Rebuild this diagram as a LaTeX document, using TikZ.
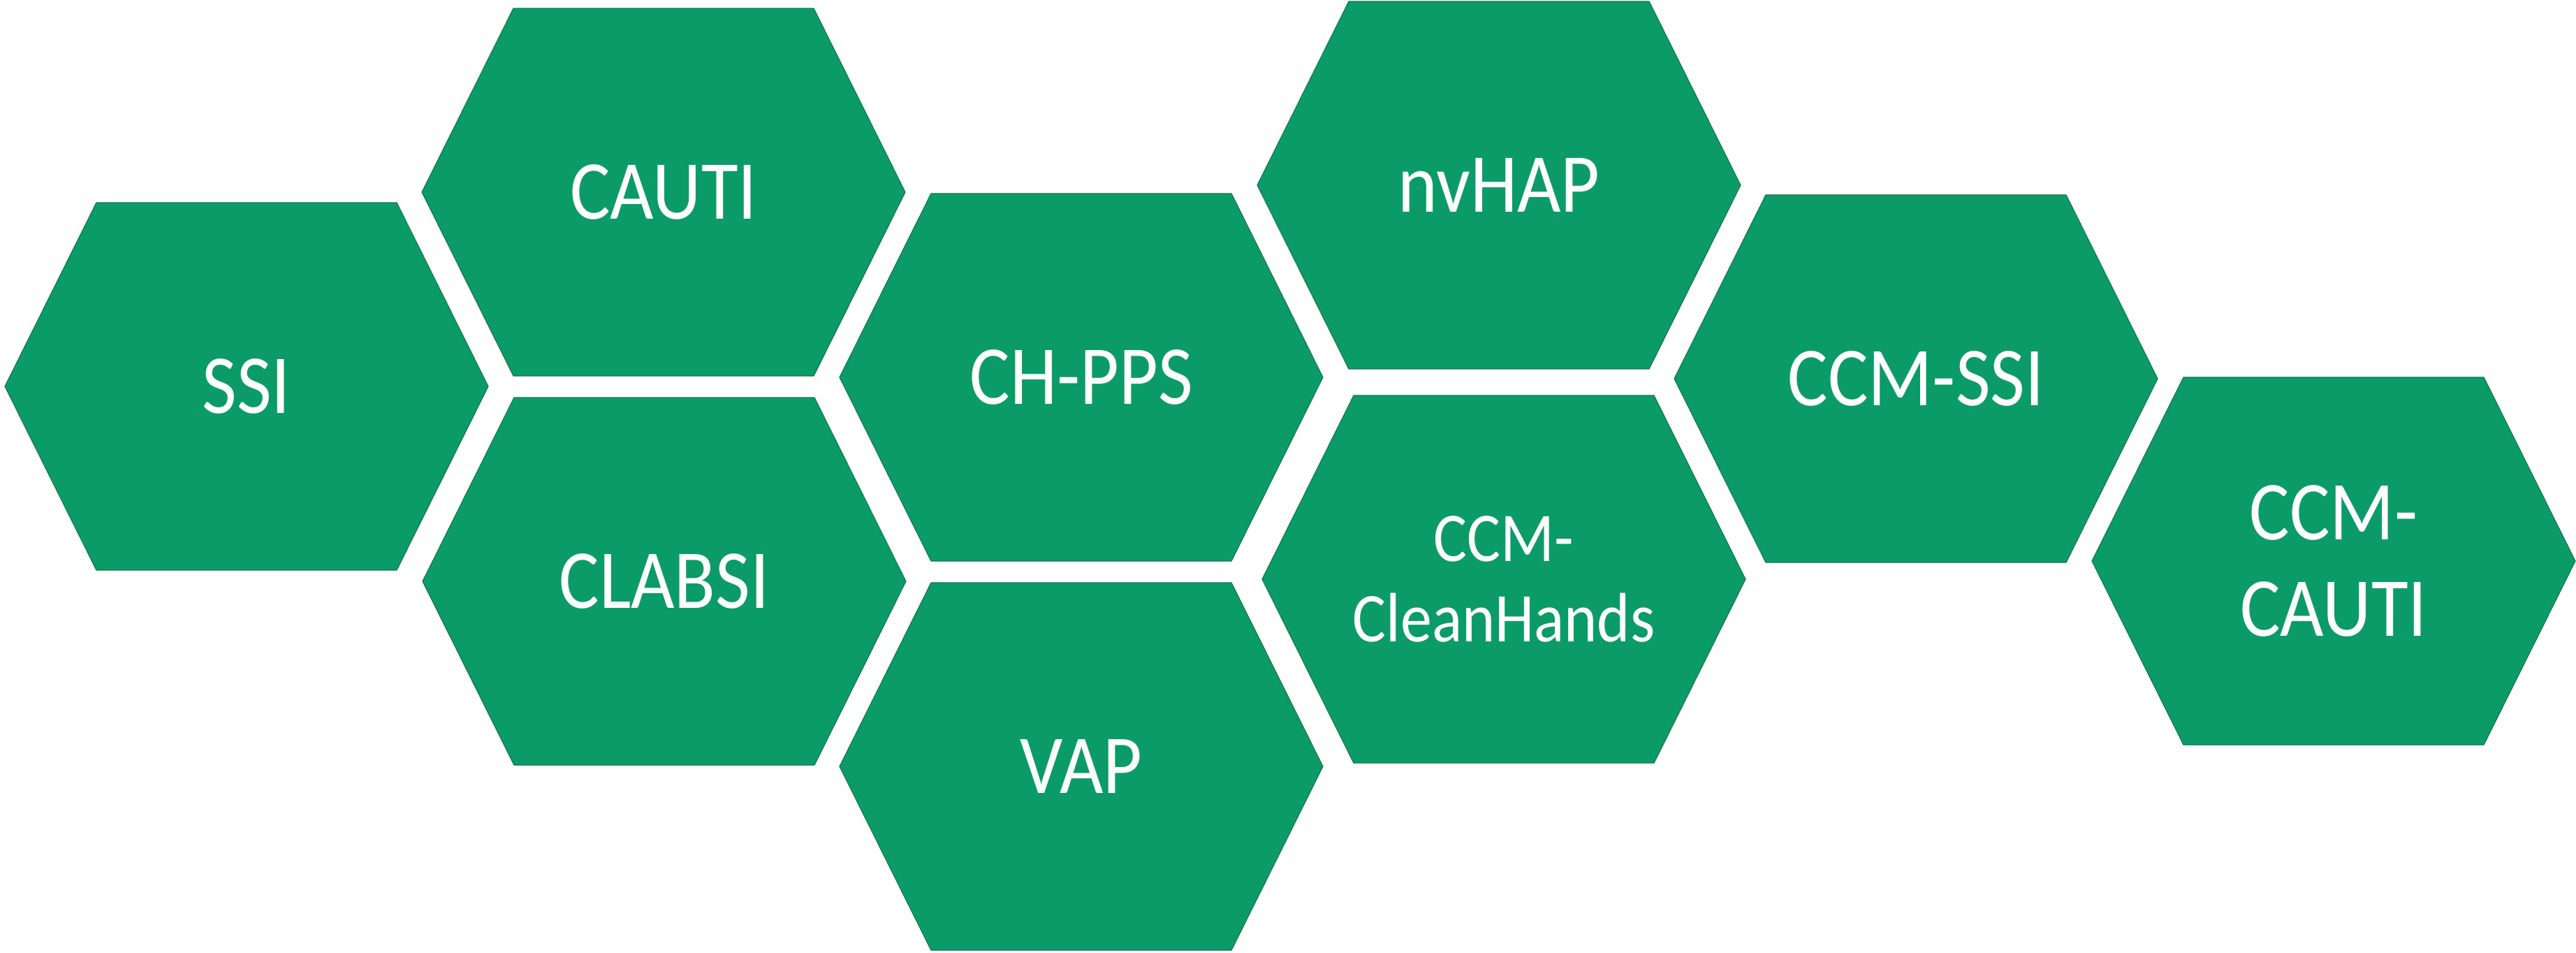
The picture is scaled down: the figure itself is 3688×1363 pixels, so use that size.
\documentclass[tikz,border=0pt]{standalone}
\usepackage{fontspec}
\setmainfont{Carlito}[FakeStretch=0.9]
\definecolor{hexgreen}{RGB}{11,155,105}
\definecolor{hexedge}{RGB}{18,118,84}
\tikzset{
  hexfill/.style={fill=hexgreen, draw=hexedge, line width=1.2pt, line join=miter},
  hextext/.style={text=white, inner sep=0pt, align=center, font=\fontsize{120}{138}\selectfont},
  hextextsmall/.style={text=white, inner sep=0pt, align=center, font=\fontsize{100}{115}\selectfont}
}
\newcommand\hexa[5]{%
  \path[hexfill] (#2-346,#3) -- (#2-215,#3-263) -- (#2+215,#3-263) -- (#2+346,#3)
     -- (#2+215,#3+263) -- (#2-215,#3+263) -- cycle;
  \node[#5] (#1) at (#2,#3) {#4};
}
\begin{document}
\begin{tikzpicture}[x=1pt,y=-1pt]
\useasboundingbox (0,0) rectangle (3688,1363);
\hexa{ssi}{353}{553}{SSI}{hextext}
\hexa{cauti}{950}{275}{CAUTI}{hextext}
\hexa{clabsi}{951}{832}{CLABSI}{hextext}
\hexa{chpps}{1548}{540}{CH-PPS}{hextext}
\hexa{vap}{1548}{1097}{VAP}{hextext}
\hexa{nvhap}{2146}{265}{nvHAP}{hextext}
\hexa{cleanhands}{2153}{829}{CCM-\\CleanHands}{hextextsmall}
\hexa{ccmssi}{2743}{542}{CCM-SSI}{hextext}
\hexa{ccmcauti}{3341}{803}{CCM-\\CAUTI}{hextext}
\end{tikzpicture}
\end{document}
